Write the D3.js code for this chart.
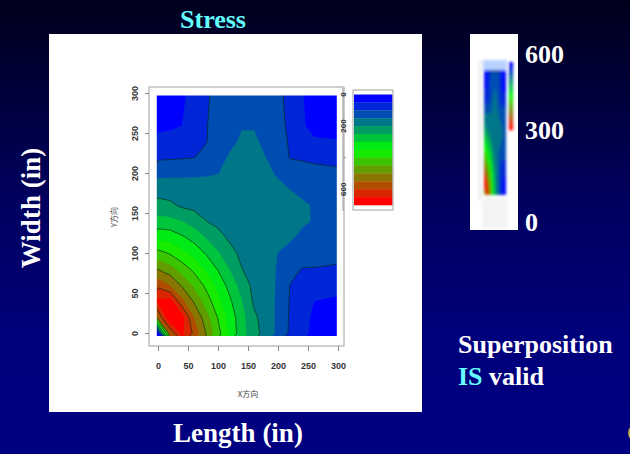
<!DOCTYPE html>
<html>
<head>
<meta charset="utf-8">
<script src="https://cdn.jsdelivr.net/npm/d3@7/dist/d3.min.js"></script>
<style>
  body { margin: 0; overflow: hidden; background: #000040; }
  text { font-family: "Liberation Serif", "Times New Roman", serif; }
</style>
</head>
<body>
<svg id="chart" width="630" height="454"></svg>
<script>
// grid positions of the stress samples (in)
var xs = [0, 20, 40, 60, 80, 100, 120, 140, 160, 180, 200, 220, 240, 260, 280, 300];
var ys = [0, 20, 40, 60, 80, 100, 120, 140, 160, 180, 200, 220, 240, 260, 280, 300];

// stress, one row per y (y = 0 first), columns follow xs
var stress = [
  [ 20, 555, 660, 590, 500, 418, 338, 268, 218, 180, 138,  92,  63,  40,  22,  10],
  [555, 700, 675, 550, 473, 397, 330, 266, 210, 177, 140,  94,  65,  43,  28,  22],
  [660, 675, 565, 495, 428, 366, 308, 251, 192, 173, 142,  96,  70,  50,  46,  42],
  [590, 550, 495, 442, 389, 334, 282, 229, 186, 170, 144,  99,  85,  72,  68,  65],
  [500, 473, 428, 389, 345, 297, 248, 201, 184, 168, 146, 112,  98,  97,  95,  92],
  [418, 397, 366, 334, 297, 257, 214, 190, 185, 170, 149, 135, 120, 118, 117, 115],
  [338, 330, 308, 282, 248, 214, 192, 190, 188, 177, 165, 156, 140, 134, 130, 128],
  [268, 266, 251, 229, 201, 190, 190, 190, 190, 183, 175, 166, 157, 147, 140, 136],
  [218, 210, 192, 186, 184, 185, 188, 190, 188, 183, 175, 166, 157, 147, 140, 136],
  [180, 177, 173, 170, 168, 170, 177, 183, 183, 175, 160, 150, 140, 135, 131, 128],
  [138, 140, 142, 144, 146, 149, 165, 175, 175, 160, 145, 132, 118, 115, 112, 110],
  [ 92,  94,  96,  99, 112, 135, 156, 166, 166, 150, 132,  97,  95,  90,  88,  86],
  [ 63,  65,  70,  85,  98, 120, 140, 157, 157, 140, 118,  95,  58,  55,  54,  52],
  [ 40,  43,  50,  72,  97, 118, 134, 147, 147, 135, 115,  90,  55,  38,  36,  35],
  [ 22,  28,  46,  68,  95, 117, 130, 140, 140, 131, 112,  88,  54,  36,  22,  20],
  [ 10,  22,  42,  65,  92, 115, 128, 136, 136, 128, 110,  86,  52,  35,  20,  10]
];

var levels = [0, 50, 100, 150, 200, 250, 300, 350, 400, 450, 500, 550, 600, 650, 700];
var lineLevels = [100, 200, 300, 400, 500, 600];
var xTicks = [0, 50, 100, 150, 200, 250, 300];
var yTicks = [0, 50, 100, 150, 200, 250, 300];
var keyTicks = [0, 200, 400, 600];
var keyLabels = ["0", "200", "", "600"];
var sideLabels = ["600", "300", "0"];

var svg = d3.select("#chart");
var defs = svg.append("defs");

// slide background
var bg = defs.append("linearGradient").attr("id", "bg")
  .attr("x1", 0).attr("y1", 0).attr("x2", 0).attr("y2", 1);
bg.append("stop").attr("offset", 0).attr("stop-color", "#00001c");
bg.append("stop").attr("offset", 0.45).attr("stop-color", "#000060");
bg.append("stop").attr("offset", 0.75).attr("stop-color", "#00007c");
bg.append("stop").attr("offset", 1).attr("stop-color", "#000082");
svg.append("rect").attr("width", 630).attr("height", 454).attr("fill", "url(#bg)");

defs.append("filter").attr("id", "blur")
  .append("feGaussianBlur").attr("stdDeviation", 1.4);
defs.append("filter").attr("id", "soft")
  .append("feGaussianBlur").attr("stdDeviation", 0.35);

// white panels
svg.append("rect").attr("x", 49).attr("y", 34).attr("width", 373).attr("height", 378).attr("fill", "#fff");
svg.append("rect").attr("x", 470).attr("y", 34).attr("width", 48).attr("height", 196).attr("fill", "#fff");

var color = d3.piecewise(d3.interpolateRgb, ["#0000ff", "#00ff00", "#ff0000"]);
var nBands = levels.length - 1;
function bandColor(i) { return color(i / (nBands - 1)); }

// contour geometry
var n = xs.length, m = ys.length;
var step = xs[1] - xs[0];
var values = [];
stress.forEach(function(row) { row.forEach(function(v) { values.push(v); }); });

var bands = d3.contours().size([n, m]).thresholds(levels.slice(0, -1))(values);
var lines = d3.contours().size([n, m]).thresholds(lineLevels)(values);

function gridPath(sx, sy) {
  return d3.geoPath(d3.geoTransform({
    point: function(gx, gy) {
      this.stream.point(sx(xs[0] + (gx - 0.5) * step), sy(ys[0] + (gy - 0.5) * step));
    }
  }));
}

// main plot
var xScale = d3.scaleLinear().domain([0, 300]).range([158, 338]);
var yScale = d3.scaleLinear().domain([0, 300]).range([333.5, 93.5]);

defs.append("clipPath").attr("id", "plotClip")
  .append("rect")
  .attr("x", xScale(-2)).attr("y", yScale(297.5))
  .attr("width", xScale(298) - xScale(-2))
  .attr("height", yScale(-3) - yScale(297.5));

var plot = svg.append("g").attr("clip-path", "url(#plotClip)")
  .append("g").attr("filter", "url(#soft)");
var path = gridPath(xScale, yScale);

plot.selectAll("path.band")
  .data(bands)
  .enter().append("path")
  .attr("class", "band")
  .attr("d", path)
  .attr("fill", function(d, i) { return bandColor(i); });

plot.selectAll("path.line")
  .data(lines)
  .enter().append("path")
  .attr("class", "line")
  .attr("d", path)
  .attr("fill", "none")
  .attr("stroke", "#0a2a14")
  .attr("stroke-opacity", 0.65)
  .attr("stroke-width", 1);

// box
svg.append("rect").attr("x", 149).attr("y", 87).attr("width", 195).attr("height", 259)
  .attr("fill", "none").attr("stroke", "#a0a0a0").attr("stroke-width", 1);

// x axis
var xAxis = svg.append("g")
  .attr("transform", "translate(0,346)")
  .call(d3.axisBottom(xScale).tickValues(xTicks).tickSize(5).tickPadding(12));
xAxis.select(".domain").remove();
xAxis.selectAll("line").attr("stroke", "#888");
xAxis.selectAll("text")
  .attr("fill", "#333")
  .style("font-family", "Liberation Sans, Arial, sans-serif")
  .style("font-size", "9px")
  .style("font-weight", "bold");

// y axis
var yAxis = svg.append("g").attr("transform", "translate(149,0)");
yAxis.selectAll("line")
  .data(yTicks)
  .enter().append("line")
  .attr("x1", 0).attr("x2", -4)
  .attr("y1", function(d) { return yScale(d); })
  .attr("y2", function(d) { return yScale(d); })
  .attr("stroke", "#888");
yAxis.selectAll("text")
  .data(yTicks)
  .enter().append("text")
  .attr("transform", function(d) { return "translate(-11," + yScale(d) + ") rotate(-90)"; })
  .attr("text-anchor", "middle")
  .attr("fill", "#333")
  .style("font-family", "Liberation Sans, Arial, sans-serif")
  .style("font-size", "9px")
  .style("font-weight", "bold")
  .text(function(d) { return d; });

svg.append("text")
  .attr("x", 248).attr("y", 397)
  .attr("text-anchor", "middle")
  .attr("fill", "#444")
  .style("font-family", "Noto Sans CJK SC, sans-serif")
  .style("font-size", "8px")
  .text("X方向");
svg.append("text")
  .attr("transform", "translate(117,217) rotate(-90)")
  .attr("text-anchor", "middle")
  .attr("fill", "#444")
  .style("font-family", "Noto Sans CJK SC, sans-serif")
  .style("font-size", "8px")
  .text("Y方向");

// colour key
var keyScale = d3.scaleLinear().domain([0, 700]).range([94.5, 205]);
svg.append("g").selectAll("rect")
  .data(d3.range(nBands))
  .enter().append("rect")
  .attr("x", 354).attr("width", 38.5)
  .attr("y", function(i) { return keyScale(levels[i]); })
  .attr("height", function(i) { return keyScale(levels[i + 1]) - keyScale(levels[i]) + 0.3; })
  .attr("fill", function(i) { return bandColor(i); });
svg.append("rect").attr("x", 353).attr("y", 90).attr("width", 40).attr("height", 120)
  .attr("fill", "none").attr("stroke", "#a0a0a0");

var keyAxis = svg.append("g").attr("transform", "translate(343,0)");
keyAxis.append("line").attr("x1", 0).attr("x2", 0).attr("y1", 88).attr("y2", 211).attr("stroke", "#999");
keyAxis.selectAll("line.tick")
  .data(keyTicks)
  .enter().append("line")
  .attr("class", "tick")
  .attr("x1", 0).attr("x2", 3)
  .attr("y1", function(d) { return keyScale(d); })
  .attr("y2", function(d) { return keyScale(d); })
  .attr("stroke", "#999");
keyAxis.selectAll("text")
  .data(keyTicks)
  .enter().append("text")
  .attr("transform", function(d) { return "translate(3," + keyScale(d) + ") rotate(-90)"; })
  .attr("text-anchor", "middle")
  .attr("fill", "#333")
  .style("font-family", "Liberation Sans, Arial, sans-serif")
  .style("font-size", "8px")
  .style("font-weight", "bold")
  .text(function(d, i) { return keyLabels[i]; });

// small blurred copy on the right
var tx = d3.scaleLinear().domain([0, 300]).range([484, 506]);
var ty = d3.scaleLinear().domain([0, 300]).range([195, 70]);
defs.append("clipPath").attr("id", "thumbClip")
  .append("rect").attr("x", 484).attr("y", 70).attr("width", 22).attr("height", 125);
var thumb = svg.append("g").attr("filter", "url(#blur)");
thumb.append("rect").attr("x", 483).attr("y", 60).attr("width", 24).attr("height", 11).attr("fill", "#b8d2ff");
thumb.append("g").attr("clip-path", "url(#thumbClip)")
  .selectAll("path")
  .data(bands)
  .enter().append("path")
  .attr("d", gridPath(tx, ty))
  .attr("fill", function(d, i) { return bandColor(i); });
var tkey = d3.scaleLinear().domain([0, 700]).range([62, 130]);
thumb.selectAll("rect.k")
  .data(d3.range(nBands))
  .enter().append("rect")
  .attr("class", "k")
  .attr("x", 509).attr("width", 4)
  .attr("y", function(i) { return tkey(levels[i]); })
  .attr("height", function(i) { return tkey(levels[i + 1]) - tkey(levels[i]) + 0.3; })
  .attr("fill", function(i) { return bandColor(i); });
thumb.append("line").attr("x1", 480).attr("x2", 480).attr("y1", 60).attr("y2", 200)
  .attr("stroke", "#ccc").attr("stroke-width", 1);
thumb.selectAll("line.t")
  .data(xTicks)
  .enter().append("line")
  .attr("class", "t")
  .attr("x1", function(d) { return tx(d); }).attr("x2", function(d) { return tx(d); })
  .attr("y1", 198).attr("y2", 228)
  .attr("stroke", "#d4d4d4").attr("stroke-width", 1);

svg.selectAll("text.side")
  .data(sideLabels)
  .enter().append("text")
  .attr("class", "side")
  .attr("x", 525)
  .attr("y", function(d, i) { return [63, 139, 231][i]; })
  .attr("fill", "#fff")
  .style("font-size", "26px")
  .style("font-weight", "bold")
  .text(function(d) { return d; });

// slide titles
svg.append("text")
  .attr("x", 213).attr("y", 28)
  .attr("text-anchor", "middle")
  .attr("fill", "#66ffff")
  .style("font-size", "26px").style("font-weight", "bold")
  .text("Stress");
svg.append("text")
  .attr("transform", "translate(40,208) rotate(-90)")
  .attr("text-anchor", "middle")
  .attr("fill", "#fff")
  .style("font-size", "27px").style("font-weight", "bold")
  .text("Width (in)");
svg.append("text")
  .attr("x", 238).attr("y", 442)
  .attr("text-anchor", "middle")
  .attr("fill", "#fff")
  .style("font-size", "27px").style("font-weight", "bold")
  .text("Length (in)");
svg.append("text")
  .attr("x", 458).attr("y", 353)
  .attr("fill", "#fff")
  .style("font-size", "26px").style("font-weight", "bold")
  .text("Superposition");
var note = svg.append("text")
  .attr("x", 458).attr("y", 385)
  .attr("fill", "#fff")
  .style("font-size", "26px").style("font-weight", "bold");
note.append("tspan").attr("fill", "#66ffff").text("IS");
note.append("tspan").text(" valid");

// corner logo fragment
svg.append("circle").attr("cx", 637).attr("cy", 433).attr("r", 8)
  .attr("fill", "#3a3a70").attr("stroke", "#b9a445").attr("stroke-width", 2);
</script>
</body>
</html>
